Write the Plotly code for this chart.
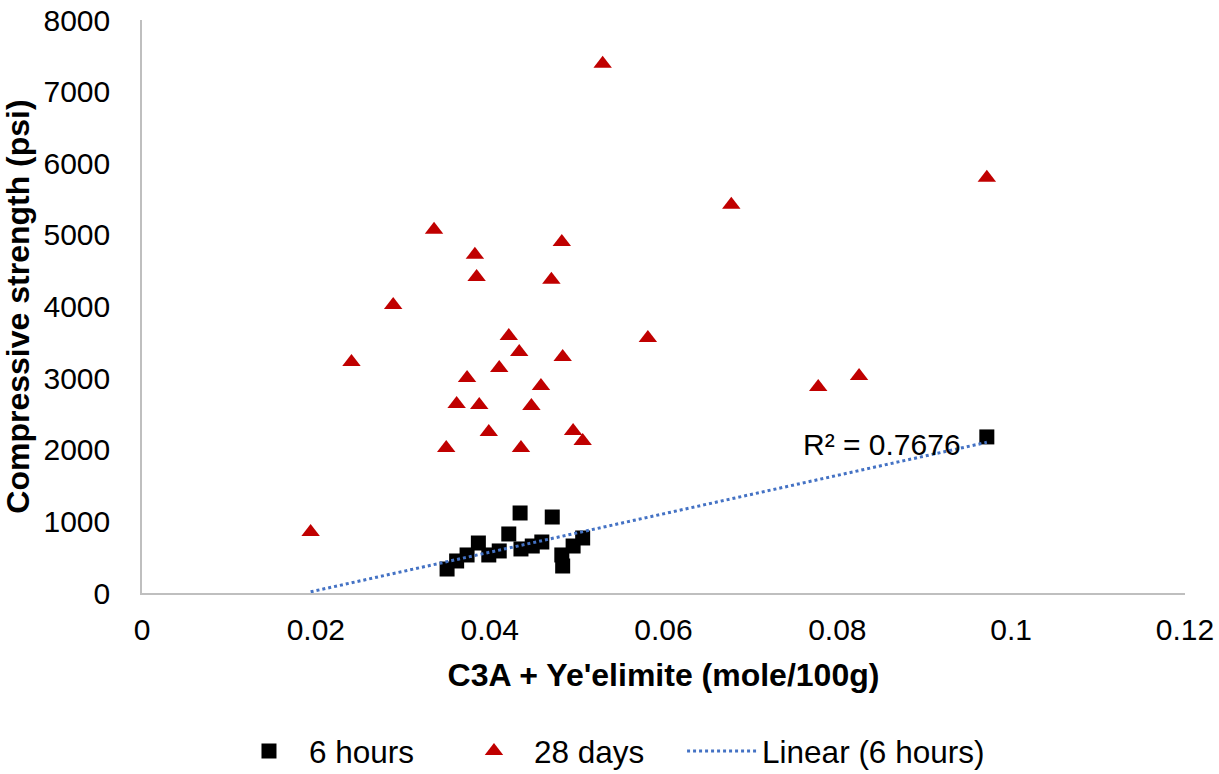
import numpy as np
import plotly.graph_objects as go

# C3A + Ye'elimite content (mole/100g) and compressive strength (psi)
x_6h = [0.0351, 0.0362, 0.0374, 0.0387, 0.0399, 0.0411, 0.0422, 0.0435, 0.0436,
        0.0449, 0.0460, 0.0472, 0.0483, 0.0484, 0.0496, 0.0507, 0.0972]
y_6h = [335, 447, 531, 698, 531, 587, 824, 1117, 615,
        656, 712, 1061, 531, 377, 656, 768, 2179]

x_28d = [0.0194, 0.0241, 0.0289, 0.0336, 0.0350, 0.0362, 0.0374, 0.0383, 0.0385,
         0.0388, 0.0399, 0.0411, 0.0422, 0.0434, 0.0436, 0.0448, 0.0459, 0.0471,
         0.0483, 0.0484, 0.0496, 0.0507, 0.0530, 0.0582, 0.0678, 0.0778, 0.0825,
         0.0972]
y_28d = [852, 3226, 4022, 5070, 2025, 2640, 3003, 4721, 4413,
         2626, 2249, 3142, 3589, 3366, 2025, 2612, 2891, 4372,
         4902, 3296, 2263, 2123, 7388, 3561, 5419, 2877, 3031,
         5796]

r2_label = "R² = 0.7676"

x_ticks = [0, 0.02, 0.04, 0.06, 0.08, 0.1, 0.12]
x_tick_text = ["0", "0.02", "0.04", "0.06", "0.08", "0.1", "0.12"]
y_ticks = [0, 1000, 2000, 3000, 4000, 5000, 6000, 7000, 8000]

# Least-squares trendline through the 6-hour series
slope, intercept = np.polyfit(x_6h, y_6h, 1)
x_fit = np.array([min(x_28d), max(x_6h)])
y_fit = slope * x_fit + intercept

FONT = "Liberation Sans, Arial, sans-serif"
LEGEND_FONT = dict(family=FONT, size=31.5, color="#000000")

fig = go.Figure()
fig.add_trace(go.Scatter(
    x=x_6h, y=y_6h, mode="markers", name="6 hours", legend="legend",
    marker=dict(symbol="square", size=15, color="#000000",
                line=dict(width=0)),
))
fig.add_trace(go.Scatter(
    x=x_28d, y=y_28d, mode="markers", name="28 days", legend="legend",
    marker=dict(symbol="triangle-up", size=16, color="#C00000",
                line=dict(width=0)),
))
fig.add_trace(go.Scatter(
    x=x_fit, y=y_fit, mode="lines", name="Linear (6 hours)", legend="legend2",
    line=dict(color="#4472C4", width=3, dash="dot"),
))

fig.add_annotation(
    x=0.0945, y=2080, xref="x", yref="y", text=r2_label, showarrow=False,
    xanchor="right", yanchor="middle",
    font=dict(family=FONT, size=30, color="#000000"),
)

fig.update_layout(
    width=1219, height=774,
    margin=dict(l=142, r=34, t=20, b=181, autoexpand=False),
    paper_bgcolor="white", plot_bgcolor="white",
    font=dict(family=FONT, color="#000000"),
    showlegend=True,
    legend=dict(
        orientation="h", x=0.0834, xanchor="left", y=-0.276, yanchor="middle",
        font=LEGEND_FONT, itemwidth=70,
        entrywidth=140, entrywidthmode="pixels", tracegroupgap=0,
    ),
    legend2=dict(
        orientation="h", x=0.5178, xanchor="left", y=-0.276, yanchor="middle",
        font=LEGEND_FONT, itemwidth=70, tracegroupgap=0,
    ),
)

fig.update_xaxes(
    range=[0, 0.12], tickvals=x_ticks, ticktext=x_tick_text,
    showgrid=False, zeroline=False, showline=True, automargin=False,
    linecolor="#BFBFBF", linewidth=1.5, ticks="",
    tickfont=dict(family=FONT, size=30, color="#000000"),
    ticklabelstandoff=9,
    title=dict(text="<b>C3A + Ye'elimite (mole/100g)</b>", standoff=19,
               font=dict(family=FONT, size=32, color="#000000")),
)
fig.update_yaxes(
    range=[0, 8000], tickvals=y_ticks, tickformat="d",
    showgrid=False, zeroline=False, showline=True, automargin=False,
    linecolor="#BFBFBF", linewidth=1.5, ticks="",
    tickfont=dict(family=FONT, size=30, color="#000000"),
    ticklabelstandoff=24,
    title=dict(text="<b>Compressive strength (psi)</b>", standoff=6,
               font=dict(family=FONT, size=32, color="#000000")),
)

fig.write_html("out.html")
